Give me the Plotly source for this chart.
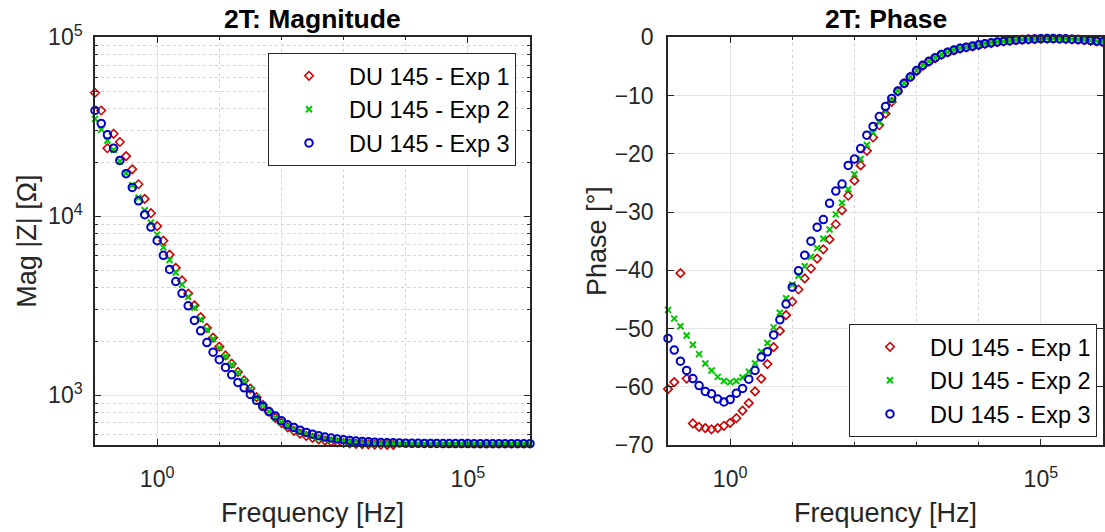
import plotly.graph_objects as go

# ---------------- data ----------------
freq_hz = [
    0.1, 0.1259, 0.1585, 0.1995, 0.2512, 0.3162, 0.3981, 0.5012, 0.631, 0.7943,
    1, 1.259, 1.585, 1.995, 2.512, 3.162, 3.981, 5.012, 6.31, 7.943,
    10, 12.59, 15.85, 19.95, 25.12, 31.62, 39.81, 50.12, 63.1, 79.43,
    100, 125.9, 158.5, 199.5, 251.2, 316.2, 398.1, 501.2, 631, 794.3,
    1e3, 1259, 1585, 1995, 2512, 3162, 3981, 5012, 6310, 7943,
    1e4, 12590, 15850, 19950, 25120, 31620, 39810, 50120, 63100, 79430,
    1e5, 125900, 158500, 199500, 251200, 316200, 398100, 501200, 631000, 794300,
    1e6,
]

mag_exp1 = [
    49000, 39000, 24000, 28900, 26000, 21700, 18300, 15100, 12500, 10400,
    8800, 7300, 6100, 5150, 4380, 3700, 3180, 2730, 2380, 2100,
    1870, 1670, 1500, 1350, 1210, 1090, 975, 885, 810, 748,
    700, 662, 633, 610, 592, 578, 567, 558, 551, 546,
    541, 538, 535, 533, 531, 530, 529, 528, 528, 527,
    527, 527, 526, 526, 526, 526, 526, 526, 525, 525,
    525, 525, 525, 525, 525, 525, 525, 525, 525, 525,
    525,
]
mag_exp2 = [
    35000, 30500, 26500, 23500, 20300, 17400, 14900, 12700, 10800, 9200,
    7900, 6700, 5700, 4850, 4150, 3550, 3080, 2650, 2320, 2060,
    1840, 1650, 1480, 1335, 1205, 1085, 975, 885, 810, 750,
    705, 670, 643, 622, 605, 592, 581, 572, 565, 559,
    554, 550, 547, 545, 543, 541, 540, 539, 538, 538,
    537, 537, 537, 536, 536, 536, 536, 536, 536, 536,
    536, 536, 536, 536, 536, 536, 536, 536, 536, 536,
    536,
]
mag_exp3 = [
    39000, 33000, 28500, 24000, 20500, 17300, 14500, 12200, 10200, 8700,
    7300, 6050, 5050, 4320, 3710, 3160, 2620, 2290, 1970, 1740,
    1580, 1430, 1300, 1180, 1100, 1010, 937, 866, 811, 766,
    721, 684, 661, 638, 620, 606, 594, 584, 576, 569,
    564, 559, 555, 552, 549, 547, 545, 543, 542, 541,
    540, 539, 539, 538, 538, 538, 537, 537, 537, 537,
    537, 536, 536, 536, 536, 536, 536, 536, 536, 536,
    536,
]

phase_exp1 = [
    -60.4, -59.2, -40.5, -58.6, -66.3, -66.9, -67.1, -67.3, -67.1, -66.7,
    -66.2, -65.4, -64.1, -62.8, -60.8, -58.6, -56.1, -53.2, -50.4, -47.7,
    -45.4, -43.3, -41.4, -39.7, -38.0, -36.4, -34.7, -32.1, -29.7, -27.2,
    -24.6, -22.0, -19.5, -17.2, -15.1, -13.1, -11.1, -9.3, -7.9, -6.8,
    -5.8, -4.9, -4.2, -3.6, -3.0, -2.6, -2.25, -1.95, -1.75, -1.55,
    -1.35, -1.15, -1.0, -0.85, -0.7, -0.6, -0.5, -0.4, -0.35, -0.3,
    -0.25, -0.25, -0.25, -0.27, -0.3, -0.35, -0.4, -0.5, -0.6, -0.7,
    -0.85,
]
phase_exp2 = [
    -46.8, -48.3, -49.6, -51.2, -52.8, -54.4, -56.0, -57.2, -58.3, -59.0,
    -59.2, -59.0, -58.4, -57.4, -56.0, -54.0, -52.5, -49.8, -47.3, -44.8,
    -42.5, -40.9, -39.3, -37.7, -36.2, -34.6, -33.0, -30.4, -28.4, -26.1,
    -23.5, -20.9, -18.5, -16.4, -14.6, -12.7, -10.9, -9.2, -7.9, -6.8,
    -5.7, -4.8, -4.1, -3.5, -2.95, -2.55, -2.2, -1.9, -1.7, -1.5,
    -1.3, -1.1, -0.95, -0.8, -0.68, -0.58, -0.48, -0.4, -0.33, -0.28,
    -0.24, -0.22, -0.22, -0.24, -0.27, -0.32, -0.38, -0.46, -0.55, -0.65,
    -0.78,
]
phase_exp3 = [
    -51.7, -53.7, -55.6, -57.2, -58.6, -59.8, -60.8, -61.2, -62.1, -62.6,
    -62.2, -61.1, -60.3, -58.7, -57.2, -54.9, -54.0, -51.1, -48.5, -45.8,
    -42.9, -40.1, -37.4, -35.0, -32.6, -31.3, -28.5, -26.4, -25.2, -22.0,
    -20.9, -19.1, -16.8, -15.3, -13.6, -11.9, -10.5, -9.2, -7.9, -6.8,
    -5.7, -4.8, -4.1, -3.5, -2.95, -2.55, -2.2, -1.9, -1.7, -1.5,
    -1.3, -1.1, -0.95, -0.8, -0.68, -0.58, -0.48, -0.4, -0.33, -0.28,
    -0.24, -0.22, -0.22, -0.24, -0.27, -0.32, -0.38, -0.46, -0.55, -0.65,
    -0.78,
]

series_names = ["DU 145 - Exp 1", "DU 145 - Exp 2", "DU 145 - Exp 3"]

x_tick_vals = [1, 1e5]
x_tick_text = ["10<sup>0</sup>", "10<sup>5</sup>"]
x_minor_vals = [0.1, 10, 100, 1e3, 1e4, 1e6]
mag_tick_vals = [1e3, 1e4, 1e5]
mag_tick_text = ["10<sup>3</sup>", "10<sup>4</sup>", "10<sup>5</sup>"]
mag_minor_vals = [600, 700, 800, 900,
                  2e3, 3e3, 4e3, 5e3, 6e3, 7e3, 8e3, 9e3,
                  2e4, 3e4, 4e4, 5e4, 6e4, 7e4, 8e4, 9e4]
phase_tick_vals = [-70, -60, -50, -40, -30, -20, -10, 0]

# ---------------- style ----------------
W, H = 1105, 532
FONT = "Liberation Sans, Arial, Helvetica, sans-serif"
AX = "#262626"
GRID = "#e4e4e4"
MINOR_GRID = "#d4d4d4"
colors = ["#cc0000", "#00c800", "#0000cc"]
symbols = ["diamond-open", "x-thin-open", "circle-open"]
sizes = [6.5, 6, 7.5]
widths = [1.6, 2, 2]


def fx(p):
    return p / W


def fy(p):
    return 1 - p / H


fig = go.Figure()
mags = [mag_exp1, mag_exp2, mag_exp3]
phases = [phase_exp1, phase_exp2, phase_exp3]
for i in range(3):
    fig.add_trace(go.Scatter(
        x=freq_hz, y=mags[i], mode="markers", name=series_names[i],
        marker=dict(symbol=symbols[i], size=sizes[i], color=colors[i],
                    line=dict(width=widths[i], color=colors[i])),
        xaxis="x", yaxis="y", legend="legend", cliponaxis=False,
    ))
for i in range(3):
    fig.add_trace(go.Scatter(
        x=freq_hz, y=phases[i], mode="markers", name=series_names[i],
        marker=dict(symbol=symbols[i], size=sizes[i], color=colors[i],
                    line=dict(width=widths[i], color=colors[i])),
        xaxis="x2", yaxis="y2", legend="legend2", cliponaxis=False,
    ))

tick_font = dict(family=FONT, size=23, color=AX)
title_font = dict(family=FONT, size=27, color=AX)
common = dict(
    showline=True, linecolor=AX, linewidth=1.5, mirror="ticks",
    ticks="inside", ticklen=6, tickwidth=1, tickcolor=AX,
    showgrid=True, gridcolor=GRID, gridwidth=1, zeroline=False,
    tickfont=tick_font, automargin=False,
)
ydom = [fy(445), fy(37.3)]

xaxis_common = dict(
    type="log", range=[-1, 6], tickmode="array",
    tickvals=x_tick_vals, ticktext=x_tick_text,
    minor=dict(tickmode="array", tickvals=x_minor_vals, ticks="inside",
               ticklen=3, tickcolor=AX, showgrid=True, griddash="dot",
               gridcolor=MINOR_GRID),
    title=dict(text="Frequency [Hz]", font=title_font, standoff=12),
    ticklabelstandoff=13,
    **common,
)

legend_common = dict(
    bgcolor="white", bordercolor=AX, borderwidth=1,
    font=dict(family=FONT, size=23.5, color="black"),
    itemwidth=70, tracegroupgap=0,
)

fig.update_layout(
    width=W, height=H,
    margin=dict(l=0, r=0, t=0, b=0, autoexpand=False),
    paper_bgcolor="white", plot_bgcolor="white",
    font=dict(family=FONT, color=AX),
    showlegend=True,
    xaxis=dict(domain=[fx(95), fx(530)], anchor="y", **xaxis_common),
    yaxis=dict(
        domain=ydom, anchor="x", type="log", range=[2.722, 5.0],
        tickmode="array", tickvals=mag_tick_vals, ticktext=mag_tick_text,
        minor=dict(tickmode="array", tickvals=mag_minor_vals, ticks="inside",
                   ticklen=3, tickcolor=AX, showgrid=True, griddash="dot",
                   gridcolor=MINOR_GRID),
        title=dict(text="Mag |Z| [Ω]", font=title_font, standoff=4),
        ticklabelstandoff=6,
        **common,
    ),
    xaxis2=dict(domain=[fx(668), fx(1103)], anchor="y2", **xaxis_common),
    yaxis2=dict(
        domain=ydom, anchor="x2", range=[-70, 0],
        tickmode="array", tickvals=phase_tick_vals,
        title=dict(text="Phase [°]", font=title_font, standoff=0),
        ticklabelstandoff=8,
        **common,
    ),
    legend=dict(x=fx(516), y=fy(53), xanchor="right", yanchor="top",
                **legend_common),
    legend2=dict(x=fx(1097), y=fy(437), xanchor="right", yanchor="bottom",
                 **legend_common),
    annotations=[
        dict(text="<b>2T: Magnitude</b>", x=fx(312.5), y=fy(19),
             xref="paper", yref="paper", xanchor="center", yanchor="middle",
             showarrow=False, font=dict(family=FONT, size=26.5, color="black")),
        dict(text="<b>2T: Phase</b>", x=fx(885.5), y=fy(19),
             xref="paper", yref="paper", xanchor="center", yanchor="middle",
             showarrow=False, font=dict(family=FONT, size=26.5, color="black")),
    ],
)

fig.write_html("out.html", config={"displayModeBar": False},
               post_script="document.body.style.margin='0px';")
